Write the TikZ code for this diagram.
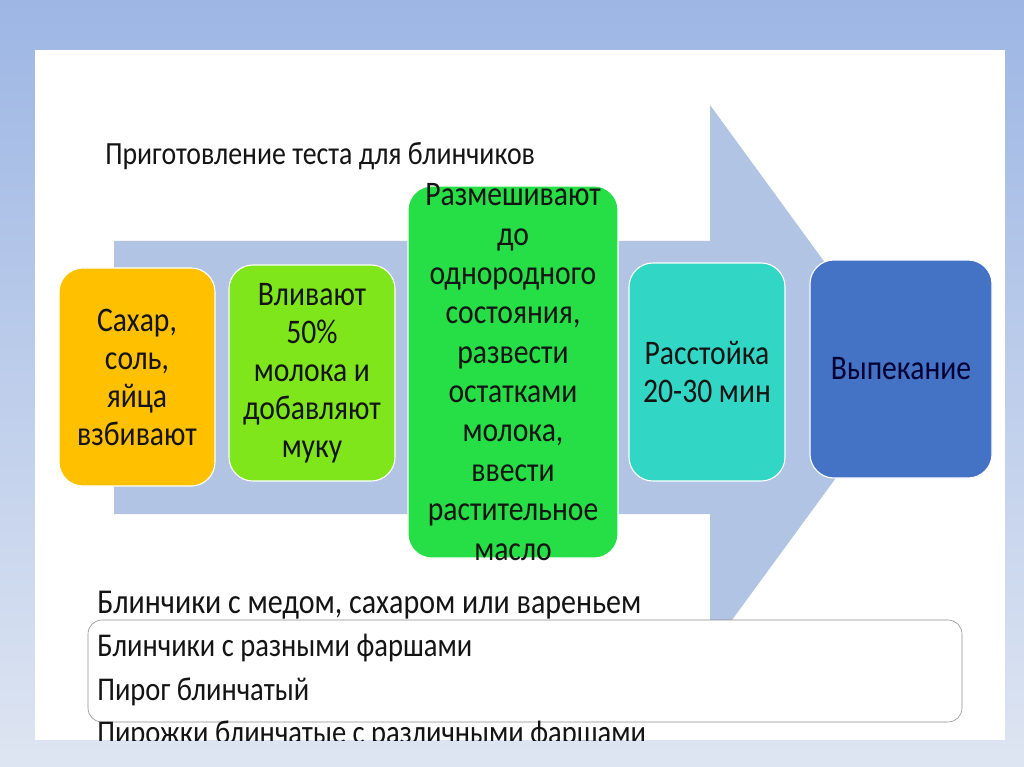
\documentclass[tikz,border=0pt]{standalone}
\usepackage{fontspec}
\setmainfont{Carlito}[FakeStretch=0.86]
\usetikzlibrary{positioning}
\definecolor{slideblue}{RGB}{157,182,228}
\definecolor{slidepale}{RGB}{222,229,242}
\definecolor{arrowblue}{RGB}{178,196,228}
\definecolor{steporange}{RGB}{255,192,0}
\definecolor{steplime}{RGB}{128,230,28}
\definecolor{stepgreen}{RGB}{38,222,70}
\definecolor{stepteal}{RGB}{50,214,196}
\definecolor{stepblue}{RGB}{68,114,196}
\definecolor{listgray}{RGB}{140,140,140}
\definecolor{inkdark}{RGB}{20,20,20}
\newcommand{\stepfont}{\fontsize{24.5}{27}\selectfont}
\tikzset{
  stepbox/.style={draw=white, line width=0.8pt, rounded corners=0.6cm, align=center, text=inkdark, font=\stepfont},
  listline/.style={anchor=base west, inner sep=0pt, text=inkdark, font=\fontsize{23.6}{28}\selectfont}
}

\begin{document}
\begin{tikzpicture}[x=0.025cm,y=-0.025cm]
% Slide background
\shade[top color=slideblue, bottom color=slidepale] (0,0) rectangle (1024,767);
\fill[white] (35,50) rectangle (1005,740);
\begin{scope}
\clip (35,50) rectangle (1005,740);
% Big arrow
\fill[arrowblue] (114,241) -- (710,241) -- (710,105) -- (909,378) -- (710,650) -- (710,514) -- (114,514) -- cycle;
% Title
\node (title) [anchor=base west, inner sep=0pt, text=inkdark, font=\fontsize{23}{26}\selectfont] at (105,165) {Приготовление теста для блинчиков};
% Step boxes
\node (sugar) [stepbox, fill=steporange, minimum width=3.9cm, minimum height=5.45cm] at (137,377) {Сахар,\\соль,\\яйца\\взбивают};
\node (milk) [stepbox, fill=steplime, minimum width=4.15cm, minimum height=5.4cm] at (312,373) {Вливают\\50\%\\молока и\\добавляют\\муку};
\node (mix) [stepbox, fill=stepgreen, minimum width=5.25cm, minimum height=9.3cm] at (513,372) {};
\node (mixtext) [align=center, text=inkdark, font=\fontsize{24.5}{28}\selectfont] at (mix) {Размешивают\\до\\однородного\\состояния,\\развести\\остатками\\молока,\\ввести\\растительное\\масло};
\node (rest) [stepbox, fill=stepteal, minimum width=3.9cm, minimum height=5.45cm] at (707,372) {Расстойка\\20-30 мин};
\node (bake) [stepbox, fill=stepblue, minimum width=4.55cm, minimum height=5.45cm, text=black!80!blue] at (901,369) {Выпекание};
% Dishes list
\node (honey) [listline, font=\fontsize{24.8}{28}\selectfont] at (97,613) {Блинчики с медом, сахаром или вареньем};
\draw[listgray, fill=white, rounded corners=0.35cm] (88,620) rectangle (962,722);
\node (filled) [listline] at (97,656) {Блинчики с разными фаршами};
\node (pie) [listline] at (97,700) {Пирог блинчатый};
\node (patties) [listline] at (97,743) {Пирожки блинчатые с различными фаршами};
\end{scope}
\end{tikzpicture}
\end{document}
